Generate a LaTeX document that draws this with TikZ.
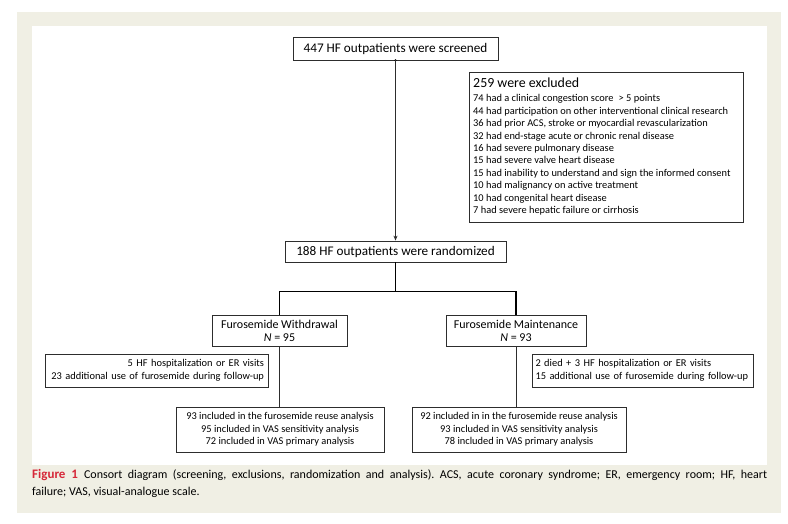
\documentclass[tikz,border=0pt]{standalone}
\usepackage{fontspec}
\setmainfont{Carlito}
\usetikzlibrary{arrows.meta,calc}
\definecolor{beige}{RGB}{240,239,228}
\definecolor{capred}{RGB}{214,40,57}
\definecolor{boxline}{RGB}{45,45,45}
\frenchspacing
\begin{document}
\begin{tikzpicture}[x=1pt,y=-1pt,
  bx/.style={draw=boxline, line width=0.8pt, inner sep=0pt, align=center},
  big/.style={font=\fontsize{13.2}{15}\selectfont},
  mid/.style={font=\fontsize{12}{13.5}\selectfont},
  sml/.style={font=\fontsize{10.4}{12.5}\selectfont},
  lst/.style={font=\fontsize{10.4}{12.4}\selectfont},
  thin/.style={draw=boxline, line width=0.8pt},
  thick/.style={draw=black, line width=1.6pt, line join=miter}]
% background
\path[use as bounding box] (0,0) rectangle (788,524);
\fill[beige] (17,12) rectangle (781,513);
\fill[white] (32,26) rectangle (767,465);
% boxes
\node[bx, big, minimum width=205pt, minimum height=23pt] (screen) at (395.5,48.5) {447 HF outpatients were screened};
\node[bx, minimum width=274pt, minimum height=150pt] (excl) at (606,147) {};
\node[anchor=base west, inner sep=0pt, font=\fontsize{13.9}{15}\selectfont] (exclT) at (473,88) {259 were excluded};
\node[anchor=north west, inner sep=0pt, align=left, lst] (exclL) at (473,94.5) {74 had a clinical congestion score\enspace> 5 points\\
44 had participation on other interventional clinical research\\
36 had prior ACS, stroke or myocardial revascularization\\
32 had end-stage acute or chronic renal disease\\
16 had severe pulmonary disease\\
15 had severe valve heart disease\\
15 had inability to understand and sign the informed consent\\
10 had malignancy on active treatment\\
10 had congenital heart disease\\
7 had severe hepatic failure or cirrhosis};
\node[bx, big, minimum width=221pt, minimum height=21pt] (rand) at (395.5,251.5) {188 HF outpatients were randomized};
\node[bx, mid, minimum width=135pt, minimum height=31pt] (wd) at (279.5,331) {Furosemide Withdrawal\\\textit{N} = 95};
\node[bx, mid, minimum width=140pt, minimum height=31pt] (mt) at (516,331) {Furosemide Maintenance\\\textit{N} = 93};
\node[bx, sml, align=right, text width=215pt, inner xsep=4pt, minimum height=33pt] (ev1) at (156.5,370.5) {5 HF hospitalization or ER visits\\23 additional use of furosemide during follow-up};
\node[bx, sml, align=left, text width=214pt, inner xsep=3.5pt, minimum height=33pt] (ev2) at (642.5,370.5) {2 died + 3 HF hospitalization or ER visits\\15 additional use of furosemide during follow-up};
\node[bx, sml, minimum width=208pt, minimum height=45pt] (an1) at (280,429.5) {93 included in the furosemide reuse analysis\\95 included in VAS sensitivity analysis\\72 included in VAS primary analysis};
\node[bx, sml, minimum width=214pt, minimum height=45pt] (an2) at (519,429.5) {92 included in in the furosemide reuse analysis\\93 included in VAS sensitivity analysis\\78 included in VAS primary analysis};
% connectors
\fill[black] (screen.south) circle (1.2pt);
\draw[thin, -{Stealth[length=5pt,width=4pt]}] (screen.south) -- (rand.north);
\coordinate (split) at ($(rand.south)+(0,29)$);
\draw[thick] (rand.south) -- (split);
\draw[thick] (wd.north) -- (wd.north |- split) -- (mt.north |- split) -- (mt.north);
\draw[thin] (wd.south) -- (wd.south |- an1.north);
\draw[thin] (mt.south) -- (mt.south |- an2.north);
% caption
\node[anchor=base west, inner sep=0pt, font=\fontsize{12}{14}\selectfont] (cap1) at (32,478) {\makebox[735pt][s]{\textcolor{capred}{\fontsize{13}{14}\selectfont\textbf{Figure 1}}\enspace Consort diagram (screening, exclusions, randomization and analysis). ACS, acute coronary syndrome; ER, emergency room; HF, heart}};
\node[anchor=base west, inner sep=0pt, font=\fontsize{12}{14}\selectfont] (cap2) at (32,495) {failure; VAS, visual-analogue scale.};
\end{tikzpicture}
\end{document}
